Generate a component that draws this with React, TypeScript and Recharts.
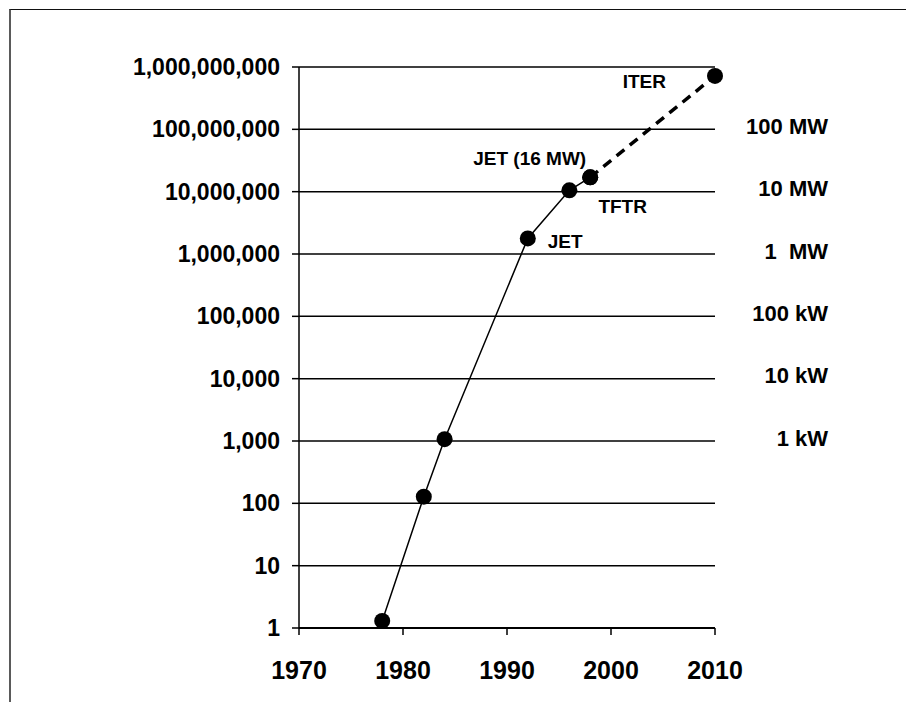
import React from "react";
import { ComposedChart, Line, XAxis, YAxis, CartesianGrid, LabelList } from "recharts";

const years = [1978, 1982, 1984, 1992, 1996, 1998, 2010];
const power = [1.3, 128, 1070, 1.78e6, 1.05e7, 1.7e7, 7.2e8];
const names = ["", "", "", "JET", "TFTR", "JET (16 MW)", "ITER"];
const phase = ["exp", "exp", "exp", "exp", "exp", "exp", "proj"];

const xTicks = [1970, 1980, 1990, 2000, 2010];
const yTicks = [1, 10, 100, 1000, 1e4, 1e5, 1e6, 1e7, 1e8, 1e9];
const rightTicks = [1e3, 1e4, 1e5, 1e6, 1e7, 1e8];
const rightLabels = ["1 kW", "10 kW", "100 kW", "1  MW", "10 MW", "100 MW"];

const lastExp = phase.lastIndexOf("exp");
const data = years.map((y, i) => ({
  year: y,
  value: power[i],
  name: names[i],
  solid: phase[i] === "exp" ? power[i] : null,
  dashed: phase[i] === "proj" || i === lastExp ? power[i] : null,
}));

const FONT = "'Liberation Sans', Arial, sans-serif";

// label placement styles (relative to point)
const labelStyle: Record<string, { dx: number; dy: number; anchor: string }> = {
  JET: { dx: 20, dy: 10, anchor: "start" },
  TFTR: { dx: 29, dy: 23, anchor: "start" },
  "JET (16 MW)": { dx: -4, dy: -12, anchor: "end" },
  ITER: { dx: -49, dy: 12, anchor: "end" },
};

const Dot = (props: any) => {
  const { cx, cy, value } = props;
  if (value == null || cx == null || cy == null) return null;
  return <circle cx={cx} cy={cy} r={8} fill="#000" stroke="none" />;
};

const PointLabel = (props: any) => {
  const { x, y, value } = props;
  const s = labelStyle[value as string];
  if (!s) return null;
  return (
    <text
      x={x + s.dx}
      y={y + s.dy}
      textAnchor={s.anchor as any}
      fontFamily={FONT}
      fontWeight="bold"
      fontSize={19}
      fill="#000"
    >
      {value}
    </text>
  );
};

const RightTick = (props: any) => {
  const { x, y, payload } = props;
  const idx = rightTicks.indexOf(payload.value);
  if (idx < 0) return null;
  return (
    <text
      x={x + 113}
      y={y - 3}
      dy="0.355em"
      textAnchor="end"
      fontFamily={FONT}
      fontWeight="bold"
      fontSize={22}
      fill="#000"
      style={{ whiteSpace: "pre" }}
    >
      {rightLabels[idx]}
    </text>
  );
};

export default function App() {
  return (
    <div style={{ position: "absolute", left: 0, top: 0, width: 906, height: 702, background: "#fff" }}>
      <div
        style={{
          position: "absolute",
          left: 9,
          top: 9,
          width: 897,
          height: 693,
          borderTop: "1.5px solid #111",
          borderLeft: "2px solid #5a5a5a",
          boxSizing: "border-box",
        }}
      />
      <ComposedChart
        width={906}
        height={702}
        data={data}
        margin={{ top: 67, right: 0, bottom: 0, left: 0 }}
        style={{ position: "absolute", left: 0, top: 0 }}
      >
        <CartesianGrid yAxisId="left" horizontal vertical={false} stroke="#000" strokeWidth={1.5} />
        <XAxis
          dataKey="year"
          type="number"
          domain={[1970, 2010]}
          ticks={xTicks}
          height={74}
          tickSize={7}
          tickMargin={26}
          axisLine={{ stroke: "#000", strokeWidth: 2 }}
          tickLine={{ stroke: "#000", strokeWidth: 1.5 }}
          tick={{ fill: "#000", fontSize: 25, fontWeight: "bold", fontFamily: FONT }}
          interval={0}
        />
        <YAxis
          yAxisId="left"
          scale="log"
          type="number"
          domain={[1, 1e9]}
          ticks={yTicks}
          width={299}
          tickSize={7}
          tickMargin={12}
          interval={0}
          allowDataOverflow
          tickFormatter={(v: number) => Math.round(v).toLocaleString("en-US")}
          axisLine={{ stroke: "#000", strokeWidth: 1.5 }}
          tickLine={{ stroke: "#000", strokeWidth: 1.5 }}
          tick={{ fill: "#000", fontSize: 23, fontWeight: "bold", fontFamily: FONT }}
        />
        <YAxis
          yAxisId="right"
          orientation="right"
          scale="log"
          type="number"
          domain={[1, 1e9]}
          ticks={rightTicks}
          width={191}
          tickSize={0}
          tickMargin={0}
          interval={0}
          allowDataOverflow
          axisLine={false}
          tickLine={false}
          tick={<RightTick />}
        />
        <Line
          yAxisId="left"
          dataKey="solid"
          type="linear"
          stroke="#000"
          strokeWidth={1.5}
          dot={<Dot />}
          activeDot={false}
          connectNulls={false}
          isAnimationActive={false}
        />
        <Line
          yAxisId="left"
          dataKey="dashed"
          type="linear"
          stroke="#000"
          strokeWidth={3.5}
          strokeDasharray="10 7"
          dot={<Dot />}
          activeDot={false}
          connectNulls={false}
          isAnimationActive={false}
        />
        <Line
          yAxisId="left"
          dataKey="value"
          type="linear"
          stroke="none"
          dot={false}
          activeDot={false}
          isAnimationActive={false}
        >
          <LabelList dataKey="name" content={<PointLabel />} />
        </Line>
      </ComposedChart>
    </div>
  );
}
